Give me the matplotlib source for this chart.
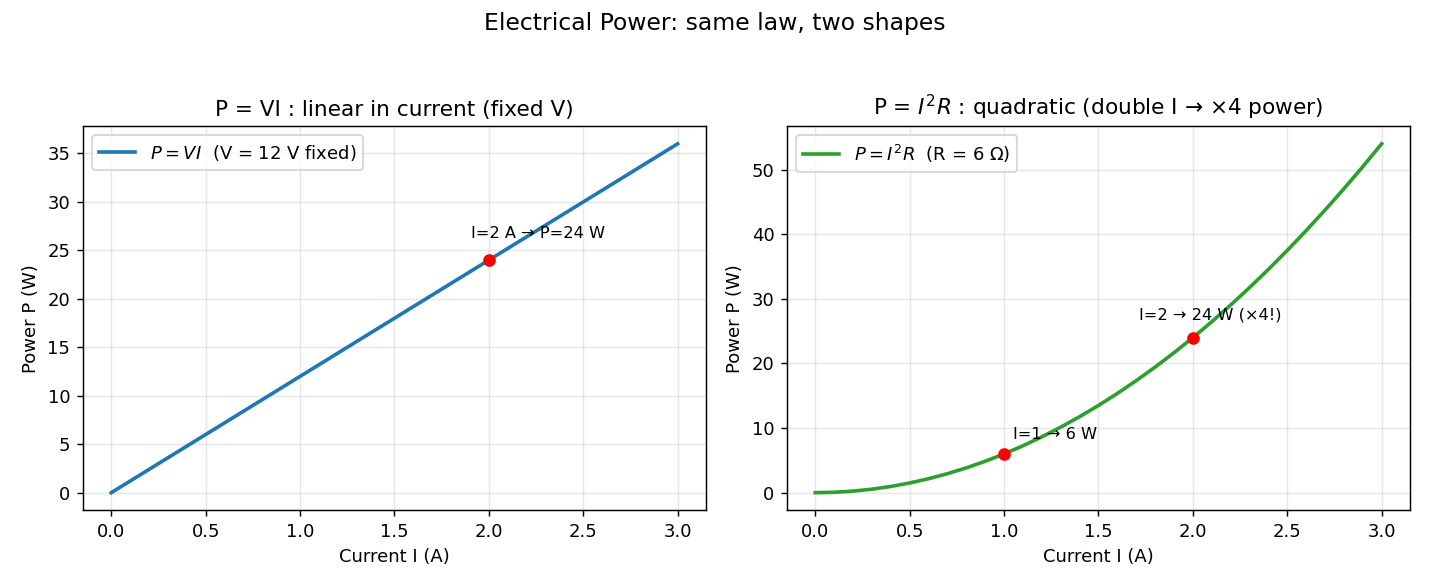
import matplotlib.pyplot as plt

# values
current_lin = [0.0, 0.5, 1.0, 1.5, 2.0, 2.5, 3.0]
power_lin = [0, 6, 12, 18, 24, 30, 36]

current_quad = [0.0, 0.1, 0.2, 0.3, 0.4, 0.5, 0.6, 0.7, 0.8, 0.9, 1.0,
                1.1, 1.2, 1.3, 1.4, 1.5, 1.6, 1.7, 1.8, 1.9, 2.0,
                2.1, 2.2, 2.3, 2.4, 2.5, 2.6, 2.7, 2.8, 2.9, 3.0]
power_quad = [0.0, 0.06, 0.24, 0.54, 0.96, 1.5, 2.16, 2.94, 3.84, 4.86, 6.0,
              7.26, 8.64, 10.14, 11.76, 13.5, 15.36, 17.34, 19.44, 21.66, 24.0,
              26.46, 29.04, 31.74, 34.56, 37.5, 40.56, 43.74, 47.04, 50.46, 54.0]

lin_point = (2.0, 24)
quad_points = [(1.0, 6), (2.0, 24)]
quad_labels = ["I=1 → 6 W", "I=2 → 24 W (×4!)"]
quad_offsets = [(5, 8), (-30, 10)]

fig, (ax1, ax2) = plt.subplots(1, 2, figsize=(11, 4.5), dpi=130)
fig.subplots_adjust(left=0.058, right=0.986, top=0.784, bottom=0.128, wspace=0.13)
fig.suptitle("Electrical Power: same law, two shapes", fontsize=13, y=0.98)

# left panel: linear
ax1.plot(current_lin, power_lin, color="tab:blue", lw=2,
         label=r"$P = VI$  (V = 12 V fixed)")
ax1.plot(*lin_point, "o", color="red", ms=6)
ax1.annotate("I=2 A → P=24 W", lin_point, textcoords="offset points",
             xytext=(-10, 12), fontsize=9)
ax1.set_title("P = VI : linear in current (fixed V)")
ax1.set_xlabel("Current I (A)")
ax1.set_ylabel("Power P (W)")
ax1.grid(alpha=0.3)
ax1.legend(loc="upper left")

# right panel: quadratic
ax2.plot(current_quad, power_quad, color="tab:green", lw=2,
         label=r"$P = I^2R$  (R = 6 Ω)")
for pt, lab, off in zip(quad_points, quad_labels, quad_offsets):
    ax2.plot(*pt, "o", color="red", ms=6)
    ax2.annotate(lab, pt, textcoords="offset points", xytext=off, fontsize=9)
ax2.set_title(r"P = $I^2R$ : quadratic (double I → ×4 power)")
ax2.set_xlabel("Current I (A)")
ax2.set_ylabel("Power P (W)")
ax2.grid(alpha=0.3)
ax2.legend(loc="upper left")

plt.savefig("out.png")
